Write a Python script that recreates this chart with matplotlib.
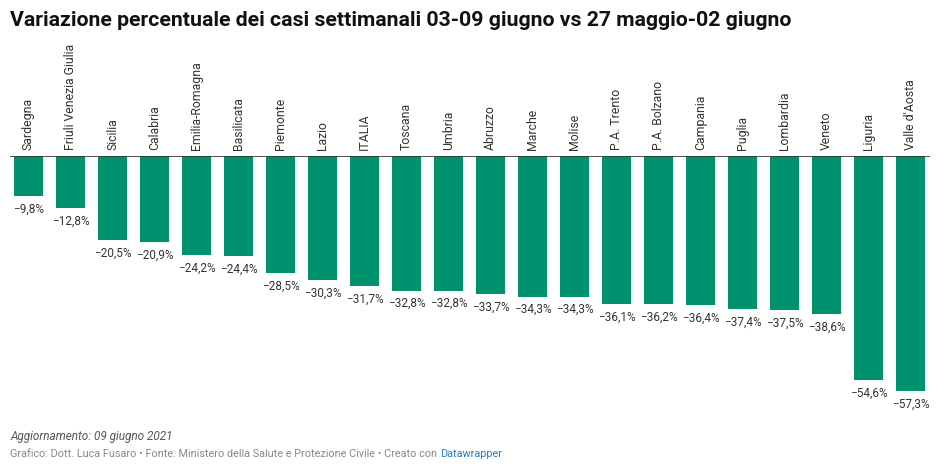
import matplotlib.pyplot as plt
import numpy as np

regions = [
    "Sardegna", "Friuli Venezia Giulia", "Sicilia", "Calabria", "Emilia-Romagna",
    "Basilicata", "Piemonte", "Lazio", "ITALIA", "Toscana", "Umbria", "Abruzzo",
    "Marche", "Molise", "P.A. Trento", "P.A. Bolzano", "Campania", "Puglia",
    "Lombardia", "Veneto", "Liguria", "Valle d'Aosta",
]
variation = [
    -9.8, -12.8, -20.5, -20.9, -24.2, -24.4, -28.5, -30.3, -31.7, -32.8, -32.8,
    -33.7, -34.3, -34.3, -36.1, -36.2, -36.4, -37.4, -37.5, -38.6, -54.6, -57.3,
]

title = "Variazione percentuale dei casi settimanali 03-09 giugno vs 27 maggio-02 giugno"
note = "Aggiornamento: 09 giugno 2021"
credit = "Grafico: Dott. Luca Fusaro • Fonte: Ministero della Salute e Protezione Civile • Creato con "

plt.rcParams["font.family"] = ["Roboto", "DejaVu Sans"]

W, H = 938, 469
fig = plt.figure(figsize=(W / 100, H / 100), dpi=100)
ax = fig.add_axes([10 / W, (H - 400) / H, 920 / W, 244 / H])

x = np.arange(len(regions))
ax.bar(x, variation, width=0.69, color="#00916e", zorder=2)
ax.axhline(0, color="#333333", lw=1.2, zorder=3)
ax.set_xlim(-0.44, len(regions) - 0.54)
ax.set_ylim(-59.5, 0)
ax.axis("off")

for xi, name, val in zip(x, regions, variation):
    ax.text(xi, 1.5, name, rotation=90, ha="center", va="bottom",
            fontsize=8.8, color="#333333", clip_on=False)
    lab = ("−" if val < 0 else "") + f"{abs(val):.1f}".replace(".", ",") + "%"
    ax.text(xi, val - 1.6, lab, ha="center", va="top",
            fontsize=8.5, color="#333333", clip_on=False)

fig.text(10 / W, 1 - 20 / H, title, ha="left", va="center",
         fontsize=15.3, fontweight="bold", color="#111111")
fig.text(10 / W, 1 - 436 / H, note, ha="left", va="center",
         fontsize=8.5, style="italic", color="#555555")
t = fig.text(10 / W, 1 - 454 / H, credit, ha="left", va="center",
             fontsize=7.85, color="#888888")
fig.canvas.draw()
bb = t.get_window_extent()
fig.text(bb.x1 / W, 1 - 454 / H, "Datawrapper", ha="left", va="center",
         fontsize=7.85, color="#1d81c2")

fig.savefig("out.png", dpi=100)
